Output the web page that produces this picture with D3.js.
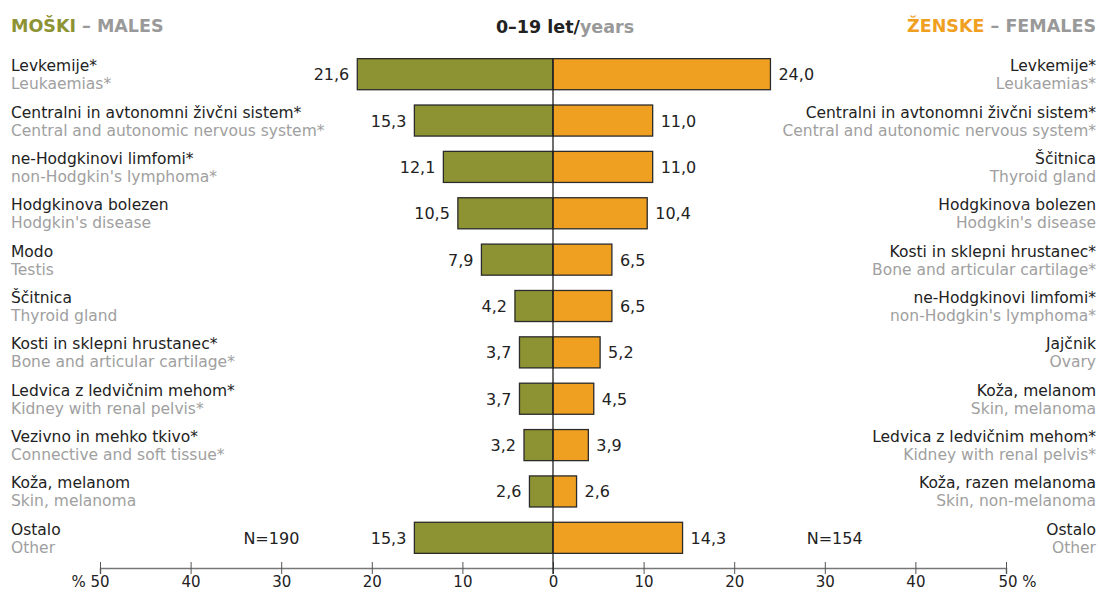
<!DOCTYPE html>
<html>
<head>
<meta charset="utf-8">
<script src="https://cdn.jsdelivr.net/npm/d3@7"></script>
<style>
  body { margin: 0; background: #fff; }
  svg { font-family: "DejaVu Sans", sans-serif; }
</style>
</head>
<body>
<svg id="chart" width="1098" height="593"></svg>
<script>
// male side, top to bottom
var maleSl = ["Levkemije*", "Centralni in avtonomni živčni sistem*", "ne-Hodgkinovi limfomi*",
  "Hodgkinova bolezen", "Modo", "Ščitnica", "Kosti in sklepni hrustanec*",
  "Ledvica z ledvičnim mehom*", "Vezivno in mehko tkivo*", "Koža, melanom", "Ostalo"];
var maleEn = ["Leukaemias*", "Central and autonomic nervous system*", "non-Hodgkin's lymphoma*",
  "Hodgkin's disease", "Testis", "Thyroid gland", "Bone and articular cartilage*",
  "Kidney with renal pelvis*", "Connective and soft tissue*", "Skin, melanoma", "Other"];
var maleValues = [21.6, 15.3, 12.1, 10.5, 7.9, 4.2, 3.7, 3.7, 3.2, 2.6, 15.3];

// female side, top to bottom
var femaleSl = ["Levkemije*", "Centralni in avtonomni živčni sistem*", "Ščitnica",
  "Hodgkinova bolezen", "Kosti in sklepni hrustanec*", "ne-Hodgkinovi limfomi*", "Jajčnik",
  "Koža, melanom", "Ledvica z ledvičnim mehom*", "Koža, razen melanoma", "Ostalo"];
var femaleEn = ["Leukaemias*", "Central and autonomic nervous system*", "Thyroid gland",
  "Hodgkin's disease", "Bone and articular cartilage*", "non-Hodgkin's lymphoma*", "Ovary",
  "Skin, melanoma", "Kidney with renal pelvis*", "Skin, non-melanoma", "Other"];
var femaleValues = [24.0, 11.0, 11.0, 10.4, 6.5, 6.5, 5.2, 4.5, 3.9, 2.6, 14.3];

var ticks = [-50, -40, -30, -20, -10, 0, 10, 20, 30, 40, 50];
var totals = ["N=190", "N=154"];

var OLIVE = "#8d9233", ORANGE = "#f0a021", GREY = "#a0a0a0", DARK = "#222";

var svg = d3.select("#chart");
var fmt = function (v) { return d3.format(".1f")(v).replace(".", ","); };

var x = d3.scaleLinear().domain([-50, 50]).range([100, 1006]);
var y = d3.scaleBand()
    .domain(d3.range(maleValues.length))
    .range([51, 561])
    .paddingInner(0.33)
    .paddingOuter(0.165);

// headers
var hl = svg.append("text").attr("x", 11).attr("y", 32)
    .style("font-size", "17.5px").style("font-weight", "bold");
hl.append("tspan").attr("fill", OLIVE).text("MOŠKI");
hl.append("tspan").attr("fill", "#999").text(" – MALES");

var hr = svg.append("text").attr("x", 1096).attr("y", 32).attr("text-anchor", "end")
    .style("font-size", "17.5px").style("font-weight", "bold");
hr.append("tspan").attr("fill", ORANGE).text("ŽENSKE");
hr.append("tspan").attr("fill", "#999").text(" – FEMALES");

var ht = svg.append("text").attr("x", 565).attr("y", 33).attr("text-anchor", "middle")
    .style("font-size", "17.5px").style("font-weight", "bold");
ht.append("tspan").attr("fill", DARK).text("0–19 let/");
ht.append("tspan").attr("fill", "#999").text("years");

// bars
svg.append("g").selectAll("rect").data(maleValues).enter().append("rect")
    .attr("x", function (d) { return x(-d); })
    .attr("y", function (d, i) { return y(i); })
    .attr("width", function (d) { return x(0) - x(-d); })
    .attr("height", y.bandwidth())
    .attr("fill", OLIVE).attr("stroke", "#2b2b2b").attr("stroke-width", 1.3);

svg.append("g").selectAll("rect").data(femaleValues).enter().append("rect")
    .attr("x", x(0))
    .attr("y", function (d, i) { return y(i); })
    .attr("width", function (d) { return x(d) - x(0); })
    .attr("height", y.bandwidth())
    .attr("fill", ORANGE).attr("stroke", "#2b2b2b").attr("stroke-width", 1.3);

// value labels
svg.append("g").selectAll("text").data(maleValues).enter().append("text")
    .attr("x", function (d) { return x(-d) - 8; })
    .attr("y", function (d, i) { return y(i) + y.bandwidth() / 2 + 6; })
    .attr("text-anchor", "end").attr("fill", DARK).style("font-size", "16px")
    .text(fmt);

svg.append("g").selectAll("text").data(femaleValues).enter().append("text")
    .attr("x", function (d) { return x(d) + 8; })
    .attr("y", function (d, i) { return y(i) + y.bandwidth() / 2 + 6; })
    .attr("text-anchor", "start").attr("fill", DARK).style("font-size", "16px")
    .text(fmt);

// category labels
function labels(sl, en, xpos, anchor) {
    var g = svg.append("g").attr("text-anchor", anchor).style("font-size", "15.5px");
    g.selectAll(".sl").data(sl).enter().append("text")
        .attr("x", xpos)
        .attr("y", function (d, i) { return y(i) + y.bandwidth() / 2 - 3; })
        .attr("fill", DARK).text(function (d) { return d; });
    g.selectAll(".en").data(en).enter().append("text")
        .attr("x", xpos)
        .attr("y", function (d, i) { return y(i) + y.bandwidth() / 2 + 15; })
        .attr("fill", GREY).text(function (d) { return d; });
}
labels(maleSl, maleEn, 11, "start");
labels(femaleSl, femaleEn, 1096, "end");

// totals
var last = maleValues.length - 1;
svg.append("text").attr("x", x(-28)).attr("y", y(last) + y.bandwidth() / 2 + 6)
    .attr("text-anchor", "end").attr("fill", DARK).style("font-size", "16px").text(totals[0]);
svg.append("text").attr("x", x(28)).attr("y", y(last) + y.bandwidth() / 2 + 6)
    .attr("text-anchor", "start").attr("fill", DARK).style("font-size", "16px").text(totals[1]);

// axis
var axisY = 568;
var axis = d3.axisBottom(x).tickValues(ticks).tickSize(6)
    .tickFormat(function (d) {
        if (d === -50) return "% 50";
        if (d === 50) return "50 %";
        return Math.abs(d);
    });
var ax = svg.append("g").attr("transform", "translate(0," + axisY + ")").call(axis);
ax.select(".domain").attr("stroke", "#777").attr("stroke-width", 1.5);
ax.selectAll(".tick line").attr("stroke", "#555").attr("y1", -6).attr("y2", 6);
ax.selectAll(".tick text").attr("fill", DARK).style("font-size", "15px")
    .style("font-family", "DejaVu Sans, sans-serif").attr("y", 19).attr("dy", null);
ax.selectAll(".tick text").filter(function (d) { return d === -50; })
    .attr("text-anchor", "end").attr("x", 9);
ax.selectAll(".tick text").filter(function (d) { return d === 50; })
    .attr("text-anchor", "start").attr("x", -8);

// centre line
svg.append("line")
    .attr("x1", x(0)).attr("x2", x(0))
    .attr("y1", y(0)).attr("y2", axisY + 6)
    .attr("stroke", DARK).attr("stroke-width", 1.3);
</script>
</body>
</html>
